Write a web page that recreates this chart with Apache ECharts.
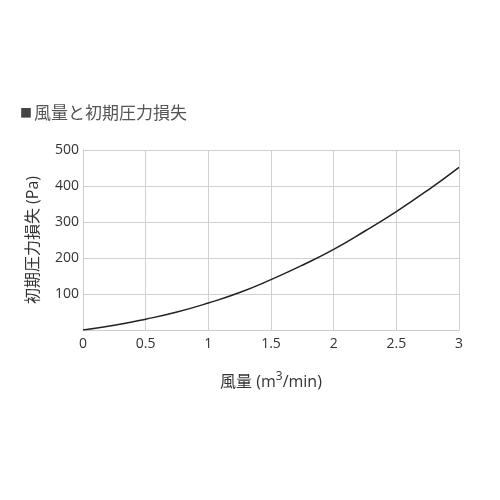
<!DOCTYPE html>
<html>
<head>
<meta charset="utf-8">
<script src="https://cdn.jsdelivr.net/npm/echarts@6/dist/echarts.min.js"></script>
<style>
html, body { margin: 0; padding: 0; background: #fff; }
#chart { width: 500px; height: 500px; }
</style>
</head>
<body>
<div id="chart"></div>
<script>
// 風量 (m3/min) と 初期圧力損失 (Pa)
var flow = [0, 0.25, 0.5, 0.75, 1, 1.25, 1.5, 1.75, 2, 2.25, 2.5, 2.75, 3];
var pressure = [0, 13, 30, 50, 75, 104, 140, 180, 224, 275, 329, 388, 452];
var xTicks = [0, 0.5, 1, 1.5, 2, 2.5, 3];
var yTicks = [0, 100, 200, 300, 400, 500];

var font = '"Open Sans", "Noto Sans CJK JP", sans-serif';

var myChart = echarts.init(document.getElementById('chart'));
var option = {
    animation: false,
    title: {
        text: '{sq|■}風量と初期圧力損失',
        left: 15,
        top: 101,
        textStyle: {
            color: '#555', fontSize: 17, fontWeight: 'normal', fontFamily: font,
            rich: { sq: { color: '#444', fontSize: 12, fontFamily: font, padding: [0, 2, 0, 0] } }
        }
    },
    grid: { left: 83, right: 41, top: 150, bottom: 170 },
    xAxis: {
        type: 'value',
        min: 0,
        max: 3,
        interval: 0.5,
        name: '風量 (m{sup|3}/min)',
        nameLocation: 'middle',
        nameGap: 41,
        nameTextStyle: {
            color: '#333', fontSize: 16, fontFamily: font,
            rich: { sup: { color: '#333', fontSize: 12, fontFamily: font, padding: [0, 0, 10, 0] } }
        },
        axisLine: { show: true, lineStyle: { color: '#ccc' } },
        axisTick: { show: false },
        splitLine: { show: true, lineStyle: { color: '#d0d0d0' } },
        axisLabel: {
            color: '#333', fontSize: 14, fontFamily: font, margin: 7,
            formatter: function (v) { return xTicks.indexOf(v) >= 0 ? String(v) : ''; }
        }
    },
    yAxis: {
        type: 'value',
        min: 0,
        max: 500,
        interval: 100,
        name: '初期圧力損失 (Pa)',
        nameLocation: 'middle',
        nameGap: 42,
        nameRotate: 90,
        nameTextStyle: { color: '#333', fontSize: 16, fontFamily: font },
        axisLine: { show: true, lineStyle: { color: '#ccc' } },
        axisTick: { show: false },
        splitLine: { show: true, lineStyle: { color: '#d0d0d0' } },
        axisLabel: {
            color: '#333', fontSize: 14, fontFamily: font, margin: 4,
            formatter: function (v) { return v === 0 || yTicks.indexOf(v) < 0 ? '' : String(v); }
        }
    },
    series: [{
        type: 'line',
        data: flow.map(function (x, i) { return [x, pressure[i]]; }),
        smooth: true,
        showSymbol: false,
        lineStyle: { color: '#222', width: 1.5 }
    }]
};
myChart.setOption(option);
</script>
</body>
</html>
